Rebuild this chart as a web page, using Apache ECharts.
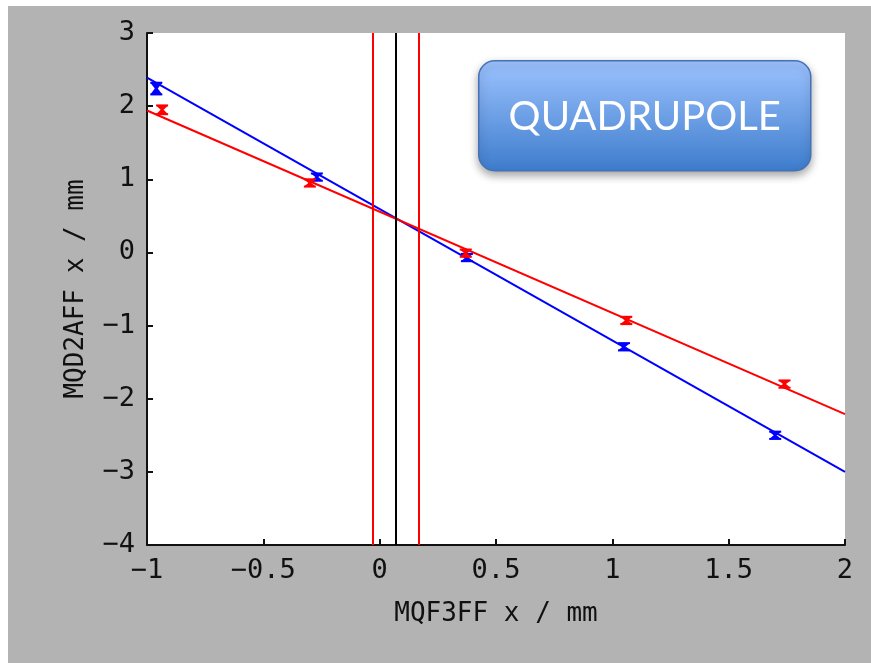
<!DOCTYPE html>
<html><head><meta charset="utf-8">
<script src="https://cdn.jsdelivr.net/npm/echarts@6/dist/echarts.min.js"></script>
<style>html,body{margin:0;padding:0;background:#fff}#c{width:871px;height:663px}</style>
</head><body><div id="c"></div>
<script>
const xTicks = [-1, -0.5, 0, 0.5, 1, 1.5, 2];
const yTicks = [-4, -3, -2, -1, 0, 1, 2, 3];
// blue measurements: [x, y, err]
const blueX = [-0.96, -0.27, 0.375, 1.05, 1.70];
const blueY = [2.24, 1.03, -0.07, -1.29, -2.50];
const blueErr = [0.08, 0.05, 0.05, 0.05, 0.05];
const redX = [-0.935, -0.30, 0.37, 1.06, 1.74];
const redY = [1.95, 0.95, -0.01, -0.93, -1.80];
const redErr = [0.06, 0.05, 0.05, 0.05, 0.05];
const blueFit = [[-1, 2.39], [2, -3.0]];
const redFit = [[-1, 1.94], [2, -2.21]];
const redVLines = [-0.03, 0.17];
const blackVLines = [0.075];
const boxLabel = 'QUADRUPOLE';
const xName = 'MQF3FF x / mm';
const yName = 'MQD2AFF x / mm';

const chart = echarts.init(document.getElementById('c'), null, {renderer: 'canvas'});
const mono = '"DejaVu Sans Mono", monospace';
function fmt(v){ return String(v).replace('-', '\u2212'); }
function errSeries(xs, ys, es, color){
  return {
    type: 'custom', z: 5,
    data: xs.map((x,i)=>[x, ys[i], es[i]]),
    renderItem: function(params, api){
      const x = api.value(0), y = api.value(1), e = api.value(2);
      const top = api.coord([x, y + e]);
      const bot = api.coord([x, y - e]);
      const c = api.coord([x, y]);
      const w = 6;
      return {type:'group', children:[
        {type:'polygon', shape:{points:[[top[0]-w, top[1]],[top[0]+w, top[1]],[c[0]+1.5,c[1]],[bot[0]+w,bot[1]],[bot[0]-w,bot[1]],[c[0]-1.5,c[1]]]}, style:{fill:color}},
        {type:'line', shape:{x1:top[0]-w,y1:top[1],x2:top[0]+w,y2:top[1]}, style:{stroke:color,lineWidth:2}},
        {type:'line', shape:{x1:bot[0]-w,y1:bot[1],x2:bot[0]+w,y2:bot[1]}, style:{stroke:color,lineWidth:2}}
      ]};
    }
  };
}
const option = {
  backgroundColor: '#b3b3b3',
  animation: false,
  grid: {left: 147, right: 26, top: 33, bottom: 118, show: true, backgroundColor: '#ffffff', borderWidth: 0},
  xAxis: {
    type: 'value', min: -1, max: 2, interval: 0.5,
    name: xName, nameLocation: 'middle', nameGap: 56,
    nameTextStyle: {fontFamily: mono, fontSize: 26, color: '#111'},
    axisLine: {show: true, onZero: false, lineStyle: {color: '#111', width: 2}},
    axisTick: {show: true, inside: true, length: 6, lineStyle: {color: '#111', width: 2}},
    axisLabel: {fontFamily: mono, fontSize: 27, color: '#111', margin: 12, formatter: fmt},
    splitLine: {show: false}
  },
  yAxis: {
    type: 'value', min: -4, max: 3, interval: 1,
    name: yName, nameLocation: 'middle', nameGap: 58, nameRotate: 90,
    nameTextStyle: {fontFamily: mono, fontSize: 26, color: '#111'},
    axisLine: {show: true, onZero: false, lineStyle: {color: '#111', width: 2}},
    axisTick: {show: true, inside: true, length: 6, lineStyle: {color: '#111', width: 2}},
    axisLabel: {fontFamily: mono, fontSize: 27, color: '#111', margin: 12, formatter: fmt},
    splitLine: {show: false}
  },
  series: [
    {type:'line', data: blueFit, symbol:'none', lineStyle:{color:'#0000ff', width:2}, z:3},
    {type:'line', data: redFit, symbol:'none', lineStyle:{color:'#ff0000', width:2}, z:3,
     markLine: {silent:true, symbol:'none', label:{show:false},
       data: redVLines.map(v=>({xAxis:v, lineStyle:{color:'#ff0000', width:2, type:'solid'}}))
             .concat(blackVLines.map(v=>({xAxis:v, lineStyle:{color:'#000000', width:2, type:'solid'}})))}},
    errSeries(blueX, blueY, blueErr, '#0000ff'),
    errSeries(redX, redY, redErr, '#ff0000')
  ],
  graphic: [
    {type:'rect', left:0, top:0, shape:{width:8, height:663}, style:{fill:'#ffffff'}, z:-1},
    {type:'rect', left:0, top:0, shape:{width:871, height:6}, style:{fill:'#ffffff'}, z:-1},
    {type:'group', left: 478, top: 60, children: [
      {type:'rect', shape:{x:0, y:0, width:332, height:110, r:16},
       style:{fill: new echarts.graphic.LinearGradient(0,0,0,1,[{offset:0,color:'#9dc3ff'},{offset:1,color:'#3d7ccc'}]),
              stroke:'#4472b8', lineWidth:1.5, shadowBlur:8, shadowOffsetY:4, shadowColor:'rgba(0,0,0,0.35)'}},
      {type:'text', x:166, y:56, style:{text: boxLabel, fill:'#ffffff', font:'40px Lato, "Open Sans", sans-serif', align:'center', verticalAlign:'middle'}}
    ]}
  ]
};
chart.setOption(option);
</script></body></html>
